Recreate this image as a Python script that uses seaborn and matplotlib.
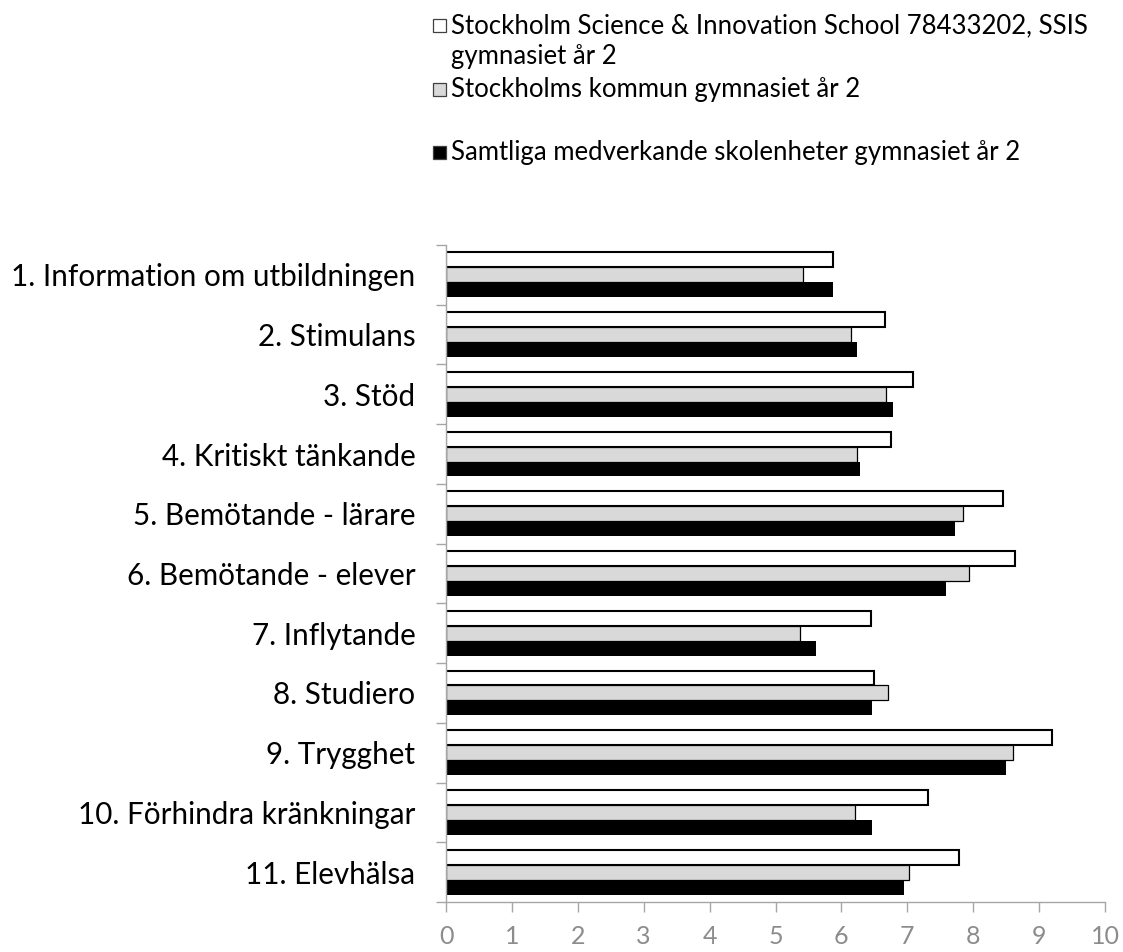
import numpy as np
import pandas as pd
import seaborn as sns
import matplotlib
matplotlib.use("Agg")
import matplotlib.pyplot as plt
from matplotlib.patches import Rectangle

categories = [
    "1. Information om utbildningen",
    "2. Stimulans",
    "3. Stöd",
    "4. Kritiskt tänkande",
    "5. Bemötande - lärare",
    "6. Bemötande - elever",
    "7. Inflytande",
    "8. Studiero",
    "9. Trygghet",
    "10. Förhindra kränkningar",
    "11. Elevhälsa",
]
series_names = [
    "Stockholm Science & Innovation School 78433202, SSIS gymnasiet år 2",
    "Stockholms kommun gymnasiet år 2",
    "Samtliga medverkande skolenheter gymnasiet år 2",
]
ssis_values = [5.88, 6.66, 7.08, 6.76, 8.45, 8.64, 6.45, 6.49, 9.19, 7.31, 7.79]
kommun_values = [5.42, 6.14, 6.68, 6.23, 7.85, 7.93, 5.37, 6.70, 8.61, 6.20, 7.03]
samtliga_values = [5.88, 6.24, 6.79, 6.28, 7.73, 7.59, 5.61, 6.47, 8.50, 6.47, 6.95]
x_ticks = list(range(0, 11))

colors = ["#FFFFFF", "#D9D9D9", "#000000"]
AXIS_GRAY = "#A6A6A6"
TICK_TEXT_GRAY = "#8C8C8C"

sns.set_theme(style="white")
plt.rcParams["font.family"] = ["Lato", "DejaVu Sans"]

rows = []
for name, vals in zip(series_names, [ssis_values, kommun_values, samtliga_values]):
    for c, v in zip(categories, vals):
        rows.append({"Kategori": c, "Värde": v, "Serie": name})
df = pd.DataFrame(rows)

W, H = 1123, 952
fig = plt.figure(figsize=(W / 100, H / 100), dpi=100)
ax_left, ax_right, ax_top, ax_bottom = 446, 1105, 245, 902
ax = fig.add_axes([ax_left / W, 1 - ax_bottom / H, (ax_right - ax_left) / W, (ax_bottom - ax_top) / H])

sns.barplot(data=df, y="Kategori", x="Värde", hue="Serie", orient="h",
            order=categories, hue_order=series_names, palette=colors,
            saturation=1, width=0.75, gap=0, ax=ax, legend=False, errorbar=None)

edge_styles = [("#000000", 1.5), ("#000000", 0.9), ("#000000", 0.0)]
for cont, (ec, lw) in zip(ax.containers, edge_styles):
    for bar in cont:
        bar.set_edgecolor(ec)
        bar.set_linewidth(lw)

ax.set_xlim(0, 10)
ax.set_ylim(len(categories) - 0.5, -0.5)
ax.set_xticks(x_ticks)
ax.set_xticklabels([str(t) for t in x_ticks])
ax.set_xlabel("")
ax.set_ylabel("")

for s in ["top", "right"]:
    ax.spines[s].set_visible(False)
for s in ["left", "bottom"]:
    ax.spines[s].set_color(AXIS_GRAY)
    ax.spines[s].set_linewidth(1.0)

ax.set_yticks(np.arange(-0.5, len(categories), 1.0), minor=True)
ax.tick_params(axis="y", which="major", length=0, pad=22, labelsize=20, labelcolor="black")
ax.tick_params(axis="y", which="minor", length=7.2, width=1.0, color=AXIS_GRAY, left=True)
ax.tick_params(axis="x", which="major", length=7.2, width=1.0, color=AXIS_GRAY, bottom=True,
               pad=9, labelsize=18, labelcolor=TICK_TEXT_GRAY)

# fit category label font size to reference width
fig.canvas.draw()
r = fig.canvas.get_renderer()
lab0 = ax.get_yticklabels()[0]
w0 = lab0.get_window_extent(r).width
fs_cat = 20 * 405 / w0
ax.tick_params(axis="y", which="major", labelsize=fs_cat)

# legend (drawn manually to reproduce the Excel layout)
leg_text_x = 451
first_name = series_names[0].replace(", SSIS ", ", SSIS\n").split("\n")
leg_lines = [
    (first_name[0], 33, 0),
    (first_name[1], 64, None),
    (series_names[1], 97, 1),
    (series_names[2], 160, 2),
]
texts = []
for txt, base_y, _ in leg_lines:
    t = fig.text(leg_text_x / W, 1 - base_y / H, txt, ha="left", va="baseline",
                 fontsize=20, color="black")
    texts.append(t)
fig.canvas.draw()
wl = texts[0].get_window_extent(r).width
fs_leg = 20 * 636 / wl
for t in texts:
    t.set_fontsize(fs_leg)

msize = 13
for txt, base_y, idx in leg_lines:
    if idx is None:
        continue
    x0 = leg_text_x - 18
    y0 = base_y - 1 - msize
    rect = Rectangle((x0 / W, 1 - (y0 + msize) / H), msize / W, msize / H,
                     transform=fig.transFigure, facecolor=colors[idx],
                     edgecolor="#404040", linewidth=0.9)
    fig.patches.append(rect)

fig.savefig("out.png", dpi=100)
